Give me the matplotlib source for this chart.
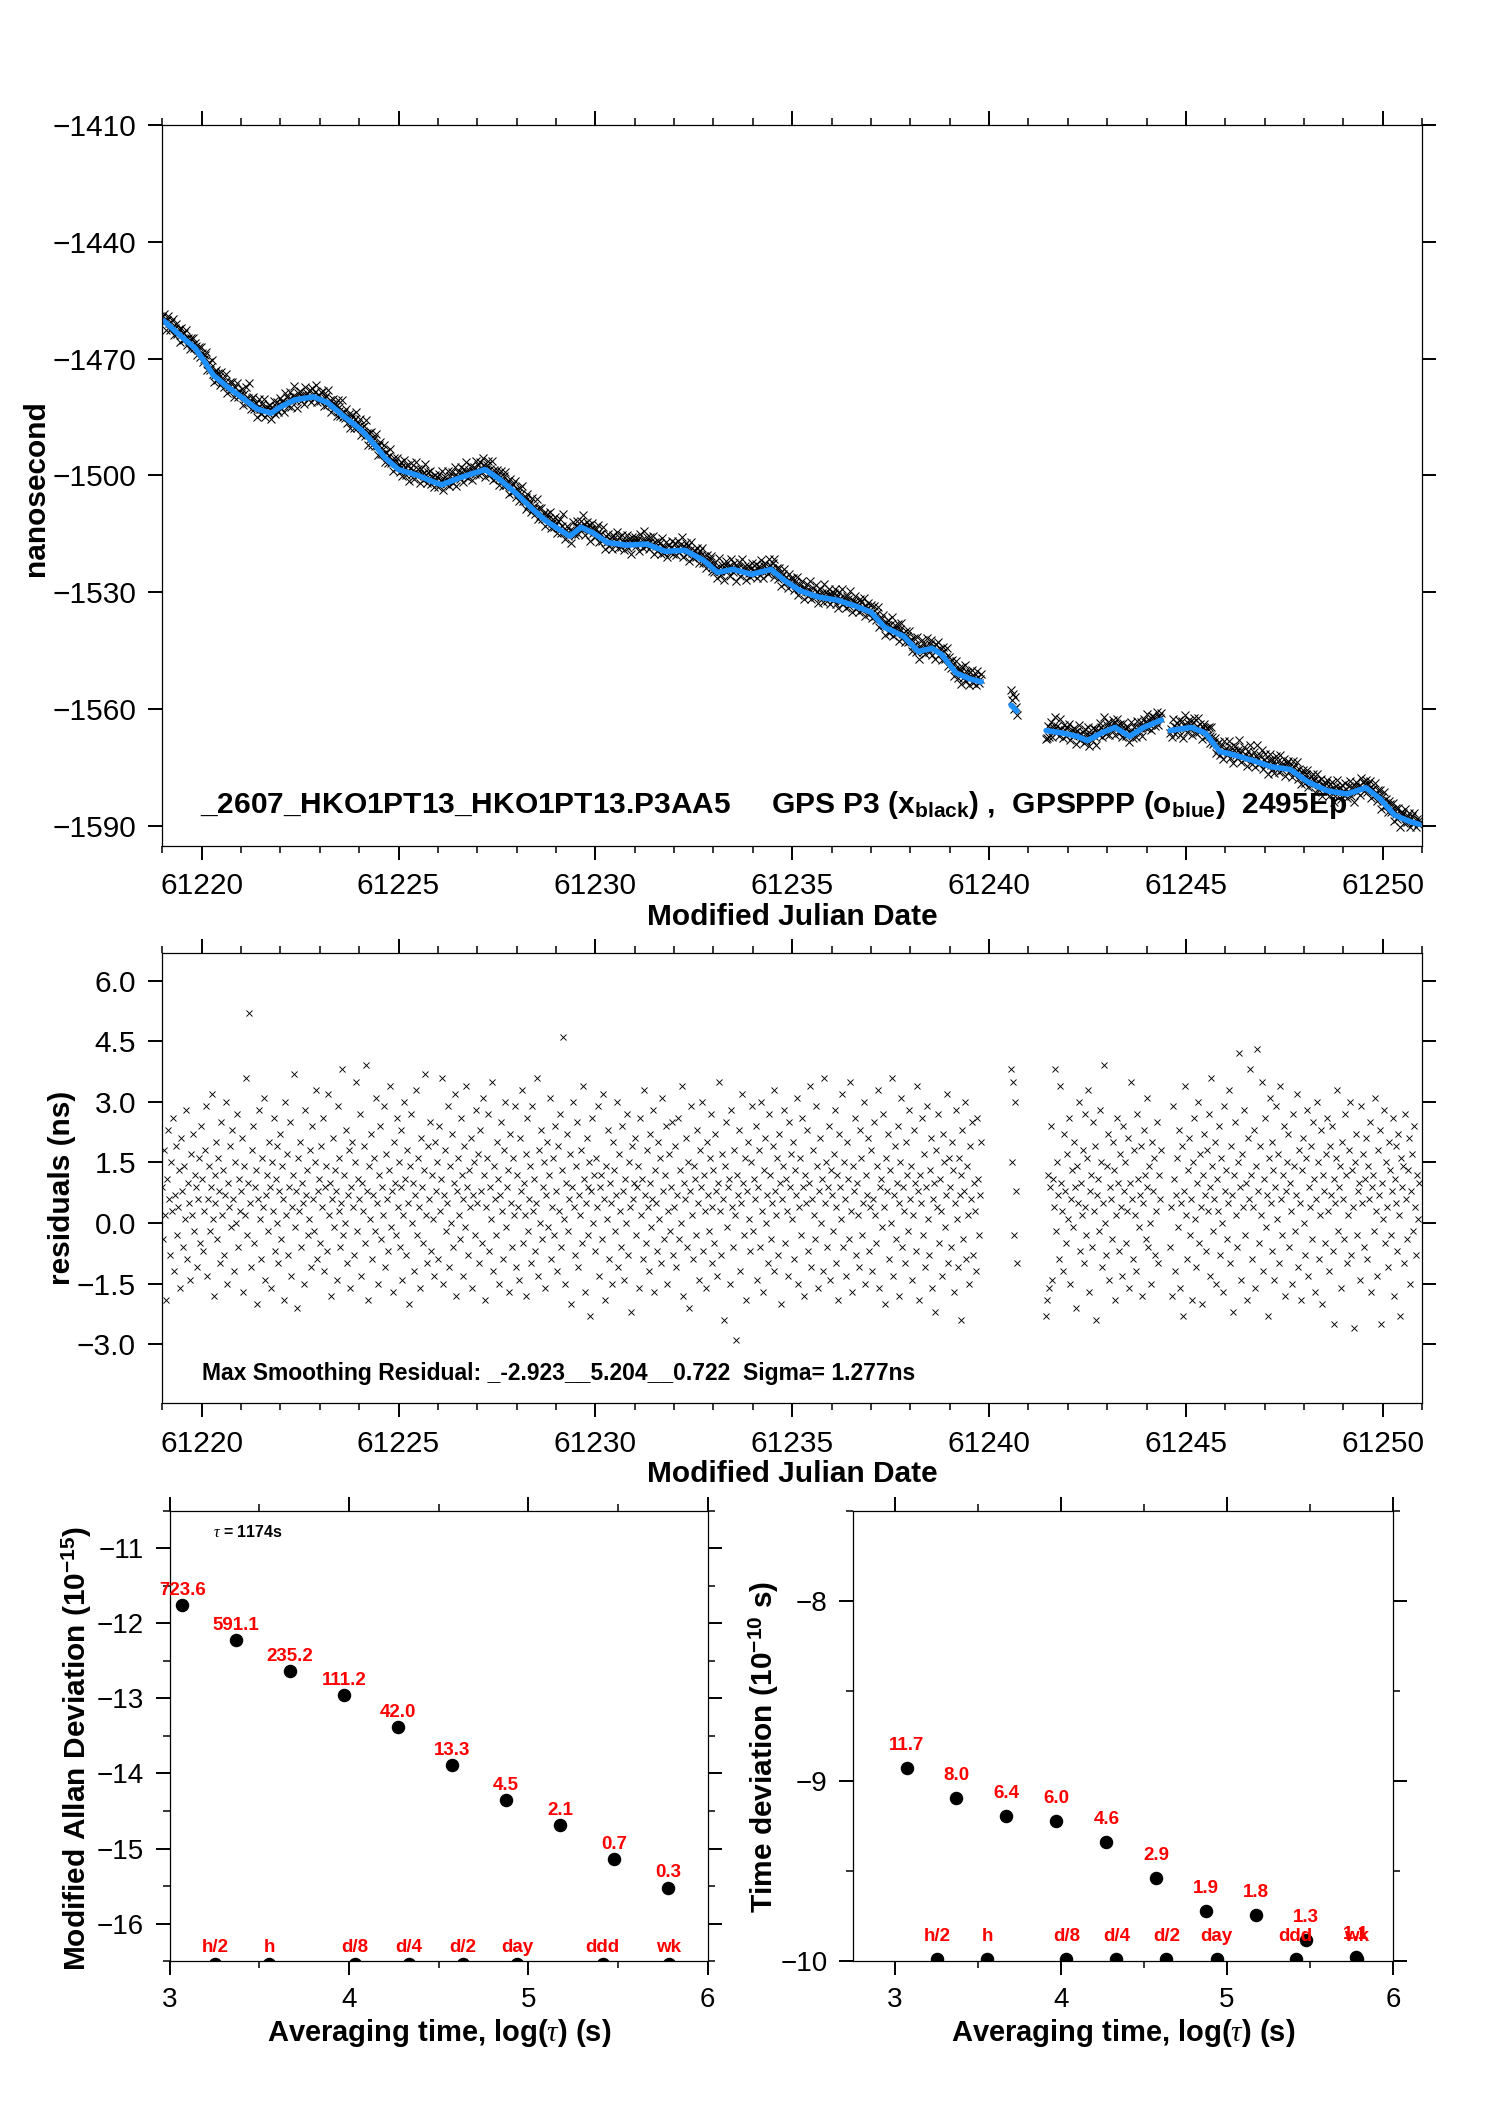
import numpy as np
import matplotlib

matplotlib.use("Agg")
import matplotlib.pyplot as plt
from matplotlib.ticker import MultipleLocator, FuncFormatter
from matplotlib.transforms import offset_copy

plt.rcParams["font.family"] = ["Liberation Sans", "DejaVu Sans"]
plt.rcParams["mathtext.fontset"] = "custom"
plt.rcParams["mathtext.rm"] = "Liberation Sans"
plt.rcParams["mathtext.bf"] = "Liberation Sans:bold"
plt.rcParams["mathtext.it"] = "Liberation Serif:italic"

STEP = 0.025  # epoch spacing (day)

# ---- smoothed (blue) curve knots, MJD / ns, one list per data segment ----
KNOT_T_A = [61219.04, 61219.47, 61219.83, 61220.00, 61220.30, 61220.67, 61221.00, 61221.40,
            61221.76, 61222.00, 61222.36, 61222.84, 61223.20, 61223.57, 61224.05, 61224.40,
            61224.65, 61225.00, 61225.50, 61225.87, 61226.10, 61226.50, 61226.94, 61227.20,
            61227.54, 61228.00, 61228.40, 61228.75, 61229.10, 61229.35, 61229.64, 61229.95,
            61230.30, 61230.80, 61231.30, 61231.78, 61232.27, 61232.75, 61233.10, 61233.50,
            61233.97, 61234.46, 61234.80, 61235.20, 61235.66, 61236.14, 61236.60, 61237.00,
            61237.35, 61237.83, 61238.20, 61238.55, 61238.80, 61239.16, 61239.50, 61239.80]
KNOT_V_A = [-1460.3, -1464.2, -1467.3, -1469.7, -1474.3, -1477.4, -1479.8, -1482.9,
            -1484.0, -1482.4, -1480.6, -1479.8, -1481.3, -1484.5, -1488.3, -1492.2,
            -1495.4, -1498.5, -1500.0, -1501.6, -1502.4, -1500.8, -1499.3, -1498.5,
            -1500.8, -1504.7, -1508.6, -1511.7, -1514.0, -1515.6, -1513.3, -1514.8,
            -1517.2, -1517.9, -1517.6, -1519.5, -1519.2, -1521.8, -1524.9, -1524.1,
            -1525.4, -1524.1, -1526.9, -1529.6, -1531.2, -1532.0, -1533.5, -1535.1,
            -1539.0, -1541.3, -1545.2, -1544.4, -1546.0, -1550.7, -1552.2, -1553.0]
KNOT_T_B = [61240.56, 61240.71]
KNOT_V_B = [-1559.0, -1560.5]
KNOT_T_C = [61241.45, 61241.90, 61242.24, 61242.50, 61242.84, 61243.20, 61243.57, 61243.93, 61244.38]
KNOT_V_C = [-1565.5, -1566.2, -1567.0, -1568.1, -1566.2, -1564.7, -1567.0, -1564.7, -1562.8]
KNOT_T_D = [61244.60, 61245.14, 61245.50, 61245.86, 61246.20, 61246.70, 61247.17, 61247.65,
            61248.10, 61248.60, 61249.10, 61249.57, 61249.93, 61250.30, 61250.67, 61250.93]
KNOT_V_D = [-1565.5, -1564.7, -1566.2, -1570.9, -1571.7, -1573.2, -1574.8, -1575.5,
            -1578.7, -1581.0, -1581.8, -1580.2, -1583.0, -1587.2, -1588.8, -1589.6]

# ---- smoothing residuals (ns), one value per epoch ----
RES_A = [
    0.9, -0.4, 1.8, 0.2, -1.9, 1.1, 2.3, 0.6, -0.8, 1.5, 0.3, 2.6, -1.2, 0.7, 1.9, -0.3, 0.4, 1.3, -1.6, 2.1,
    0.8, -0.6, 1.4, 0.1, 2.8, -0.9, 1.0, 0.5, -1.4, 1.7, 0.2, 2.2, -0.2, 1.2, 0.9, -1.1, 0.6, 1.6, -0.5, 2.4,
    1.1, -0.7, 0.3, 1.8, 2.9, -1.3, 0.6, 1.4, -0.2, 0.9, 3.2, 0.1, -1.8, 1.2, 0.5, 2.0, -0.4, 1.6, 0.8, -1.0,
    2.5, 0.2, 1.3, -0.8, 0.7, 3.0, -1.5, 1.0, 0.4, 1.9, -0.1, 2.3, 0.6, -1.2, 1.5, 0.0, 2.7, -0.6, 1.1, 0.3,
    0.8, 2.1, -1.7, 1.4, 0.2, 3.6, -0.3, 1.0, 5.2, 0.5, -1.1, 1.8, 2.4, -0.5, 0.9, 1.3, -2.0, 0.6, 2.8, 0.1,
    -0.9, 1.6, 0.4, 3.1, -1.4, 0.7, 1.2, -0.2, 2.0, 0.9, -1.6, 1.5, 0.3, 2.6, -0.7, 1.1, 0.0, 1.9, -1.0, 0.8,
    2.2, -0.4, 1.4, 0.6, -1.9, 3.0, 0.2, 1.7, -0.8, 0.9, 2.5, -1.3, 0.4, 1.2, 3.7, -0.1, 0.8, -2.1, 1.6, 0.3,
    2.0, -0.6, 1.0, 0.5, -1.5, 2.8, 0.7, 1.3, -0.3, 0.1, 1.8, -1.1, 2.4, 0.6, -0.2, 1.5, 3.3, -0.9, 0.8, 1.1,
    -0.5, 1.9, 0.4, 2.6, -1.2, 0.9, 1.4, -0.7, 3.2, 0.2, 1.0, -1.8, 0.6, 2.1, -0.1, 1.3, 0.8, -1.4, 2.9, 0.3,
    1.6, -0.6, 0.5, 3.8, -0.3, 1.2, 0.0, 2.3, -1.0, 0.7, 1.8, -1.6, 0.9, 2.0, 0.4, -0.8, 1.5, 3.5, -0.2, 1.1,
    0.6, 2.7, -1.3, 1.0, 0.3, 1.9, -0.5, 3.9, 0.8, -1.9, 1.4, 0.1, 2.2, -0.9, 0.7, 1.6, -0.2, 3.1, 0.5, -1.5,
    1.2, 2.4, -0.4, 0.9, 0.2, 2.9, -1.1, 1.7, 0.6, -0.7, 1.3, 3.4, -0.1, 0.8, -1.7, 2.0, 1.0, -0.3, 2.6, 0.4,
    1.5, -0.6, 0.9, 2.3, -1.4, 0.2, 3.0, 1.1, -0.8, 1.8, 0.5, -2.0, 1.4, 2.7, 0.0, 1.0, -1.2, 0.7, 3.3, -0.3,
    1.6, 0.4, -1.6, 2.1, 0.9, -0.5, 1.3, 3.7, 0.2, -1.0, 1.9, 0.6, 2.5, -0.7, 1.2, 0.1, -1.3, 2.0, 0.8, 1.5,
    -0.9, 2.4, 0.3, 1.1, 3.6, -1.5, 0.7, 1.8, -0.2, 0.5, 2.9, -1.1, 1.4, 0.0, 2.2, -0.6, 1.0, 3.2, -1.8, 0.8,
    1.6, 0.2, -0.4, 2.6, 1.2, -1.3, 0.6, 1.9, -0.1, 3.4, 0.9, -0.8, 1.3, 0.4, 2.1, -1.6, 0.7, 1.5, -0.3, 2.8,
    0.5, 1.7, -1.0, 2.3, 0.8, -0.5, 3.1, 1.2, -1.9, 0.4, 1.6, 2.7, -0.7, 0.9, 0.1, 3.5, -1.2, 1.4, 0.6, -0.3,
    2.0, 1.1, -1.5, 0.7, 2.5, 0.3, -0.9, 1.8, 3.0, -0.1, 0.9, 1.3, -1.7, 2.2, 0.5, -0.6, 1.6, 0.2, 2.9, -1.1,
    1.2, 0.4, -1.4, 2.1, 0.8, 3.3, -0.5, 1.0, 0.2, -1.8, 1.7, 2.6, -0.2, 0.6, 1.4, -1.0, 2.9, 0.3, 1.1, -0.7,
    0.5, 3.6, -1.3, 1.8, 0.0, 2.3, -0.4, 0.9, 1.5, -1.6, 0.7, 2.0, -0.1, 1.2, 3.1, -0.9, 0.4, 1.6, -0.3, 2.4,
    0.8, -1.2, 1.9, 0.3, 2.7, -0.6, 1.3, 4.6, 0.1, -1.5, 1.0, 2.2, -0.2, 0.6, 1.7, -2.0, 0.9, 3.0, 0.4, -0.8,
    1.4, 2.5, -1.1, 0.7, 0.2, 1.8, -0.5, 3.4, 1.1, -1.7, 0.5, 2.1, 0.9, -0.3, 1.5, -2.3, 0.8, 2.6, 0.0, 1.2,
    -0.7, 1.6, 0.4, 2.9, -1.3, 0.9, 1.2, -0.4, 3.2, 0.6, -1.9, 1.4, 0.1, 2.3, -0.9, 1.0, 0.5, -1.5, 2.0, 1.3,
    -0.2, 0.7, 3.0, -1.1, 1.7, 0.3, -0.6, 2.4, 0.8, -1.4, 1.1, 0.0, 2.7, -0.8, 1.5, 0.4, -2.2, 1.9, 0.6, 1.0,
    2.1, -0.3, 0.9, 1.4, -1.6, 2.6, 0.2, 1.1, -0.9, 3.3, 0.7, -0.5, 1.8, 0.4, -1.2, 2.2, 1.0, -0.1, 0.6, 2.8,
    -1.7, 1.3, 0.5, -0.7, 2.0, 0.1, 1.6, -1.0, 3.1, 0.8, -0.4, 1.2, 2.4, -1.5, 0.3, 1.7, -0.2, 0.9, 2.5, -0.8,
    0.4, 1.9, -1.1, 0.7, 2.6, -0.4, 1.3, 0.0, 3.4, -1.8, 1.0, 0.6, 2.1, -0.6, 1.5, -2.1, 0.8, 2.9, 0.2, -0.9,
    1.4, 1.1, -0.3, 2.3, 0.5, -1.4, 1.8, 0.9, 3.0, -0.7, 1.2, 0.3, -1.6, 2.0, 0.7, -0.2, 1.6, 2.7, -1.0, 0.4,
    1.3, -0.5, 2.2, 0.8, -1.3, 1.0, 3.5, 0.3, -0.8, 1.7, 0.6, -2.4, 1.4, 2.5, -0.1, 0.9, 1.1, -1.5, 2.8, 0.4,
    -0.6, 1.8, 0.2, -2.9, 1.2, 0.7, 2.3, -1.2, 0.5, 3.2, 1.0, -0.3, 1.6, -1.9, 0.8, 2.0, 0.1, -0.7, 1.5, 2.9,
    -0.2, 1.1, 0.6, 2.4, -1.4, 0.9, 1.8, -0.6, 3.0, 0.3, -1.7, 1.3, 2.1, 0.0, 0.7, -1.0, 2.7, 1.2, -0.4, 0.5,
    1.9, 3.3, -1.2, 0.8, 0.2, 1.6, -0.8, 2.2, 1.0, -2.0, 0.6, 1.4, 2.8, -0.5, 1.1, 0.3, -1.3, 2.5, 0.9, 1.7,
    0.1, 2.0, -0.9, 1.3, 0.7, 3.1, -1.5, 0.4, 1.6, -0.3, 2.6, 0.9, -1.8, 1.2, 0.5, 2.3, -0.7, 1.0, 3.4, -1.1,
    0.6, 1.8, 0.2, -0.4, 2.9, 1.4, -1.6, 0.8, 2.1, 0.0, 1.1, -1.2, 3.6, 0.5, 1.5, -0.6, 0.9, 2.4, -1.4, 1.3,
    0.7, -0.2, 1.7, 2.8, -1.0, 0.4, 1.2, -1.9, 2.2, 0.9, 0.1, 3.2, -0.6, 1.5, 0.6, -1.3, 2.0, 1.1, -0.4, 3.5,
    0.3, -1.7, 1.4, 0.8, 2.6, -0.8, 1.0, 0.2, -1.1, 2.3, 1.6, -0.3, 0.5, 3.0, -1.5, 1.2, 0.7, 2.1, -0.7, 0.4,
    1.8, -1.2, 0.6, 2.5, 0.2, -0.5, 1.4, 3.3, -1.6, 0.9, 1.1, -0.1, 2.7, 0.4, -2.0, 1.6, 0.8, 2.2, -0.9, 1.3,
    0.0, 3.6, -1.3, 0.7, 1.9, -0.4, 1.0, 2.4, -1.8, 0.5, 1.5, 3.1, -0.6, 0.9, 0.3, -1.0, 2.0, 1.2, -0.2, 2.8,
    0.6, 1.4, -1.4, 0.2, 2.3, 1.0, -0.7, 3.4, 0.8, -1.9, 1.2, 0.5, 2.6, -0.3, 1.7, -1.1, 0.9, 2.9, 0.1, -0.8,
    1.3, 2.1, -1.6, 0.6, 1.0, -2.2, 1.8, 0.4, 2.7, -0.5, 1.1, 0.3, -1.3, 2.2, 1.5, -0.1, 0.7, 3.2, -1.0, 1.6,
    0.9, -0.6, 2.0, 1.3, -1.7, 0.5, 2.8, 0.1, -1.1, 1.6, 0.7, -2.4, 1.2, 2.3, -0.4, 0.8, 3.0, -0.9, 1.4, 0.2,
    -1.5, 1.9, 0.6, 2.5, -0.8, 1.0, 0.3, -1.2, 2.6, 1.1, -0.3, 0.7, 2.0,
]
RES_B = [3.8, 1.5, 3.5, -0.3, 3.0, 0.8, -1.0]
RES_C = [
    -2.3, -1.9, 1.2, -1.6, 0.9, 2.4, -1.4, 1.1, 0.4, 3.8, -0.2, 1.5, 0.7, -0.9, 3.4, 1.0, 0.3, -1.2, 2.2, 0.8,
    -0.5, 1.7, 0.1, 2.6, -1.5, 0.6, 1.3, -0.1, 2.0, 0.9, -2.1, 1.4, 0.5, 3.0, -0.7, 1.0, 0.2, 1.8, -1.0, 2.7,
    0.4, -0.3, 1.6, 3.3, -1.7, 0.8, 1.2, -0.6, 2.5, 0.3, 1.9, -2.4, 0.7, 1.1, -0.2, 2.8, 1.5, -1.1, 0.5, 3.9,
    0.0, -0.8, 1.4, 2.2, -1.4, 0.9, 0.6, -0.4, 2.0, 1.3, -1.9, 0.2, 2.6, 1.0, -0.7, 1.7, 0.4, -1.3, 2.4, 0.8,
    1.5, -0.5, 0.3, 2.1, -1.6, 1.0, 3.5, 0.6, -0.9, 1.8, 0.2, -1.2, 2.7, 1.1, -0.1, 0.7, 1.9, -1.8, 0.5, 2.3,
    1.2, -0.4, 0.9, 3.1, -0.6, 1.4, 0.0, -1.5, 2.0, 0.8, 1.6, -0.8, 0.3, 2.5, -1.0, 1.2, 0.6, 1.8,
]
RES_D = [
    -0.6, 0.4, -1.8, 2.9, 1.1, -1.2, 0.7, 1.6, -0.1, 2.3, -1.6, 0.5, 1.9, -2.3, 0.8, 3.4, 0.2, -0.9, 1.3, 2.1,
    -0.3, 0.6, -1.9, 1.5, 2.6, 0.1, -1.1, 1.0, 3.0, -0.5, 1.7, 0.4, -2.0, 1.2, 2.2, 0.7, -0.7, 1.8, 0.3, 2.7,
    -1.3, 0.9, 3.6, 1.4, -0.2, 0.6, 2.0, -1.5, 1.1, 0.3, 2.4, -0.8, 1.6, 0.0, -1.7, 2.9, 0.8, 1.3, -0.4, 0.5,
    3.3, -1.0, 1.9, 0.7, -2.2, 1.2, 2.5, 0.2, -0.6, 1.5, 4.2, 0.9, -1.4, 1.7, 0.4, 2.8, -0.3, 1.0, -1.9, 2.1,
    0.6, 3.8, 1.2, -0.9, 0.4, 2.3, -1.6, 1.4, 4.3, 0.8, -0.5, 1.9, 0.2, 3.5, -1.2, 1.1, 2.6, -0.1, 0.7, -2.3,
    1.6, 3.1, 0.5, -0.7, 2.0, 1.3, -1.4, 0.9, 2.9, 0.1, 1.7, -1.0, 3.4, 0.6, -0.3, 1.2, 2.4, -1.8, 0.8, 1.5,
    2.2, -0.6, 1.0, 0.3, -1.5, 2.7, 1.4, -0.2, 0.7, 3.2, -1.1, 1.8, 0.5, -1.9, 1.3, 2.1, 0.0, -0.8, 1.6, 2.8,
    -1.3, 0.9, 0.4, 1.9, -0.4, 2.5, 1.1, -1.7, 0.6, 3.0, 1.5, -0.9, 0.2, 2.3, -2.0, 1.2, 0.8, -0.5, 1.7, 2.6,
    0.3, -1.2, 1.9, 0.7, 2.4, -0.7, 1.1, -2.5, 0.5, 1.6, 3.3, -0.2, 0.9, 1.4, -1.6, 2.0, 0.6, -0.4, 2.7, 1.2,
    -1.0, 0.2, 1.8, 3.0, -0.8, 1.3, 0.4, -2.6, 1.5, 2.2, -0.3, 0.8, 1.0, -1.4, 2.9, 0.5, 1.7, -0.6, 1.1, 2.1,
    -0.9, 1.4, 0.6, 2.5, -1.7, 0.9, 1.2, -0.2, 3.1, 0.3, -1.3, 1.8, 0.7, 2.3, -2.5, 1.0, 0.1, 2.8, -0.5, 1.5,
    0.4, -1.1, 2.0, 1.3, -0.3, 0.8, 2.6, -1.8, 1.1, 0.5, 1.9, -0.7, 2.2, 0.2, -2.3, 1.6, 0.9, 1.4, -1.0, 2.7,
    0.6, -0.4, 1.3, 2.1, -1.5, 0.8, 1.7, -0.2, 2.4, 0.4, -0.8, 1.2, 0.1, 1.0,
]
SEG_START = [61219.00, 61240.56, 61241.45, 61244.60]

# ---- stability panels ----
LOG_TAU = [3.070, 3.370, 3.671, 3.972, 4.273, 4.574, 4.875, 5.176, 5.477, 5.778]
MDEV = [-11.75, -12.22, -12.63, -12.95, -13.38, -13.89, -14.35, -14.69, -15.14, -15.52]
MDEV_LBL = ["723.6", "591.1", "235.2", "111.2", "42.0", "13.3", "4.5", "2.1", "0.7", "0.3"]
TDEV = [-8.93, -9.097, -9.194, -9.222, -9.337, -9.538, -9.721, -9.745, -9.886, -9.976]
TDEV_LBL = ["11.7", "8.0", "6.4", "6.0", "4.6", "2.9", "1.9", "1.8", "1.3", "1.1"]
MARK_LOG = [3.255, 3.556, 4.033, 4.334, 4.635, 4.937, 5.414, 5.782]
MARK_LBL = ["h/2", "h", "d/8", "d/4", "d/2", "day", "ddd", "wk"]

RED = "#ff0000"
BLUE = "#1e90ff"


def minus_fmt(fmt):
    def f(v, pos):
        s = fmt.format(v)
        if s.startswith("-") and float(s) == 0:
            s = s[1:]
        return s.replace("-", "\u2212")
    return FuncFormatter(f)


def style(ax, fs, ylen=10, pad=9):
    ax.tick_params(which="both", direction="out", top=True, right=True, labelsize=fs, pad=pad)
    ax.tick_params(which="major", length=ylen, width=1.4)
    ax.tick_params(which="minor", length=ylen * 0.5, width=1.1)
    for s in ax.spines.values():
        s.set_linewidth(0.9)


segments = [
    (RES_A, KNOT_T_A, KNOT_V_A),
    (RES_B, KNOT_T_B, KNOT_V_B),
    (RES_C, KNOT_T_C, KNOT_V_C),
    (RES_D, KNOT_T_D, KNOT_V_D),
]

fig = plt.figure(figsize=(14.88, 21.05), dpi=100)
ax1 = fig.add_axes([0.1091, 0.5982, 0.8466, 0.3424])
ax2 = fig.add_axes([0.1091, 0.3334, 0.8466, 0.2138])
ax3 = fig.add_axes([0.1140, 0.0684, 0.3616, 0.2138])
ax4 = fig.add_axes([0.5735, 0.0684, 0.3627, 0.2138])

# ---- top: raw + smoothed ----
for (res, kt, kv), t0 in zip(segments, SEG_START):
    t = t0 + STEP * np.arange(len(res))
    raw = np.interp(t, kt, kv) + np.array(res)
    ax1.plot(t, raw, ls="none", marker="x", ms=5.5, mew=0.75, color="black")
    ax2.plot(t, res, ls="none", marker="x", ms=4.0, mew=0.65, color="black")
for _, kt, kv in segments:
    ax1.plot(kt, kv, color=BLUE, lw=4, solid_capstyle="round", solid_joinstyle="round")

for ax in (ax1, ax2):
    ax.set_xlim(61219.0, 61251.0)
    ax.xaxis.set_major_locator(MultipleLocator(5))
    ax.xaxis.set_minor_locator(MultipleLocator(1))
    ax.xaxis.set_major_formatter(FuncFormatter(lambda v, p: f"{v:.0f}"))
    style(ax, 21.5)
    ax.tick_params(axis="y", which="minor", left=False, right=False)
    ax.set_xlabel("Modified Julian Date", fontsize=21.5, fontweight="bold", labelpad=2)

ax1.set_ylim(-1595.1, -1410)
ax1.yaxis.set_major_locator(MultipleLocator(30))
ax1.yaxis.set_major_formatter(minus_fmt("{:.0f}"))
ax1.set_ylabel("nanosecond", fontsize=21.5, fontweight="bold", va="center")
ax1.yaxis.set_label_coords(-0.100, 0.496)
ax1.text(0.030, 0.045,
         "_2607_HKO1PT13_HKO1PT13.P3AA5     GPS P3 (x$_{\\mathbf{black}}$) ,  "
         "GPSPPP (o$_{\\mathbf{blue}}$)  2495Ep",
         transform=ax1.transAxes, fontsize=21.5, fontweight="bold", va="baseline")

ax2.set_ylim(-4.46, 6.68)
ax2.yaxis.set_major_locator(MultipleLocator(1.5))
ax2.yaxis.set_major_formatter(minus_fmt("{:.1f}"))
ax2.set_ylabel("residuals (ns)", fontsize=21.5, fontweight="bold", va="center")
ax2.yaxis.set_label_coords(-0.080, 0.478)
ax2.text(0.0313, 0.0518, "Max Smoothing Residual: _-2.923__5.204__0.722  Sigma= 1.277ns",
         transform=ax2.transAxes, fontsize=16.5, fontweight="bold", va="baseline")

# ---- bottom: MDEV and TDEV ----
for ax in (ax3, ax4):
    ax.xaxis.set_major_locator(MultipleLocator(1))
    ax.xaxis.set_minor_locator(MultipleLocator(0.5))
    ax.yaxis.set_major_locator(MultipleLocator(1))
    ax.yaxis.set_minor_locator(MultipleLocator(0.5))
    ax.xaxis.set_major_formatter(FuncFormatter(lambda v, p: f"{v:.0f}"))
    ax.yaxis.set_major_formatter(minus_fmt("{:.0f}"))
    style(ax, 20, pad=8.5)
    ax.set_xlabel("Averaging time, log($\\tau$) (s)", fontsize=21, fontweight="bold", labelpad=3)


def draw_stab(ax, ys, lbls, lbl_off, ybot, mark_y, mark_off):
    ax.plot(LOG_TAU, ys, ls="none", marker="o", ms=8.7, color="black")
    tr = offset_copy(ax.transData, fig=fig, x=0, y=lbl_off, units="points")
    for x, y, s in zip(LOG_TAU, ys, lbls):
        t = ax.text(x, y, s, transform=tr, ha="center", va="center", color=RED,
                    fontsize=13.5, fontweight="bold")
        t.set_clip_path(ax.patch)
    ax.plot(MARK_LOG, [mark_y] * len(MARK_LOG), ls="none", marker="o", ms=8.7, color="black")
    tr2 = offset_copy(ax.transData, fig=fig, x=0, y=mark_off, units="points")
    for x, s in zip(MARK_LOG, MARK_LBL):
        ax.text(x, ybot, s, transform=tr2, ha="center", va="center", color=RED,
                fontsize=13.5, fontweight="bold")


ax3.set_xlim(3.0, 6.0)
ax3.set_ylim(-16.5, -10.5)
draw_stab(ax3, MDEV, MDEV_LBL, 10.5, -16.5, -16.54, 9.7)
ax3.set_ylabel("Modified Allan Deviation (10$^{\\mathbf{-15}}$)", fontsize=21.5,
               fontweight="bold", va="center")
ax3.yaxis.set_label_coords(-0.172, 0.472)
ax3.text(0.080, 0.953, "$\\tau$ = 1174s", transform=ax3.transAxes, fontsize=11.5,
         fontweight="bold", va="center")

ax4.set_xlim(2.75, 6.0)
ax4.set_ylim(-10.0, -7.5)
draw_stab(ax4, TDEV, TDEV_LBL, 16.2, -10.0, -9.99, 17.3)
ax4.set_ylabel("Time deviation (10$^{\\mathbf{-10}}$ s)", fontsize=21.5,
               fontweight="bold", va="center")
ax4.yaxis.set_label_coords(-0.165, 0.476)

fig.savefig("out.png", dpi=100)
